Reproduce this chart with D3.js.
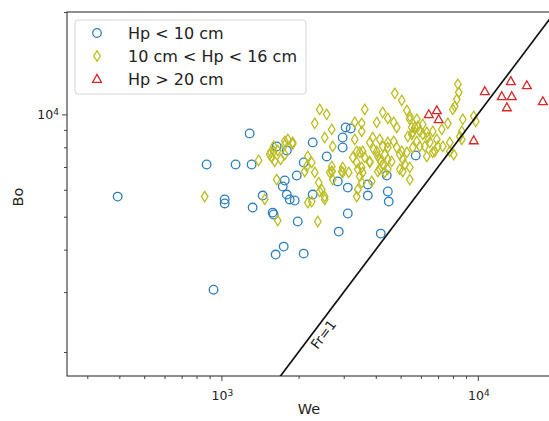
<!DOCTYPE html>
<html>
<head>
<meta charset="utf-8">
<script src="https://cdn.jsdelivr.net/npm/d3@7"></script>
<style>
  body { margin: 0; background: #fff; }
  svg { display: block; font-family: "DejaVu Sans", sans-serif; }
</style>
</head>
<body>
<div id="vis"></div>
<script>
// [We, Bo] pairs
const smallHp = [
  [394,5730],[932,3050],[876,7120],[1136,7120],[1312,7120],[1289,8790],[1643,8050],[1800,7830],
  [2094,7220],[1967,6610],[1767,6390],[1735,6135],[1799,5810],[1847,5620],[1932,5580],[1030,5620],
  [1030,5470],[1449,5770],[1324,5320],[1585,5140],[1599,5075],[1985,4840],[1750,4084],[1628,3870],
  [2094,3895],[2271,8270],[2575,7520],[3053,9150],[3194,9090],[2972,8550],[2972,7990],[4415,6610],
  [5728,7570],[2271,5810],[2844,6350],[3111,6090],[3724,6220],[3724,5770],[4457,5930],[4494,5540],
  [3111,5110],[2868,4520],[4183,4460]
];

const midHp = [
  [861,5730],[1397,7320],[1557,7730],[1571,7470],[1599,7780],[1614,7270],[1704,7370],[1816,8440],
  [1897,8270],[1643,6430],[2114,6790],[2152,7030],[1476,5620],[1659,4870],[2173,5500],[1767,8330],
  [1599,8050],[1659,7830],[1543,7620],[1767,7620],[2173,7520],[2251,7220],[2418,10340],[2575,10000],
  [2313,9410],[2694,9030],[2529,8550],[2718,8050],[3623,10340],[3312,9470],[3526,9410],[3526,8910],
  [4258,10140],[4457,9730],[4699,9470],[4831,9150],[4745,11530],[5052,10990],[5286,10270],[5429,9670],
  [5679,9150],[5527,8730],[3892,8550],[3312,8440],[4036,9470],[3252,7470],[3464,7730],[3623,7470],
  [3790,7270],[4146,8440],[4258,8050],[4457,8270],[4036,7780],[4146,7370],[4337,7620],[4699,8330],
  [4831,7990],[4963,7620],[5097,7370],[4618,7270],[4457,6890],[4963,6890],[5286,7730],[5575,7990],
  [5782,8330],[5429,6980],[3403,6890],[3557,6750],[2972,6980],[2694,7030],[2694,6790],[2313,6750],
  [3372,7780],[3557,7780],[3790,8270],[3926,7890],[4457,7990],[5052,7780],[6212,8050],[6325,7520],
  [6674,7730],[4074,7520],[4183,7270],[4258,7120],[4457,7370],[5191,7120],[3372,7220],[3526,6980],
  [3790,7220],[4146,6890],[4337,6750],[3137,6750],[2646,6750],[2718,6430],[2946,6790],[2397,6300],
  [2462,6010],[2529,5730],[2251,5540],[3403,6010],[2418,5930],[2529,5620],[2972,6750],[3464,6570],
  [3526,6300],[3858,6350],[3372,5730],[2377,4840],[4074,6790],[5097,6790],[5429,6430],[5939,8050],
  [6797,7780],[8360,12260],[8430,11610],[8283,11070],[8135,10560],[7641,9410],[8738,9670],[9642,9865],
  [9819,9535],[7987,10340],[8661,8910],[8508,8610],[7777,8270],[8057,7620],[6920,8440],[6985,8050],
  [6325,8850],[6674,8910],[5335,8610],[5575,8850],[5836,9220],[6099,8730],[5782,9670],[6099,9340],
  [5527,9150],[5939,8910],[7236,9030],[8661,8440],[7300,8050],[6384,8550],[6498,8270],[7777,7780],
  [5429,9865],[1767,8130],[1897,8180],[2700,6800]
];

const largeHp = [
  [10650,11690],[13450,12510],[15530,12170],[12400,11300],[13570,11300],[12980,10480],
  [17930,10920],[9640,8380],[6440,10000],[6920,10270],[7040,9670]
];

const frLine = [1000, 40000];  // Fr = 1 -> Bo = We
const frLabelAt = 2340;

const xMajor = [1000, 10000];
const xMinor = [300, 400, 500, 600, 700, 800, 900, 2000, 3000, 4000, 5000, 6000, 7000, 8000, 9000, 20000];
const yMajor = [10000];
const yMinor = [2000, 3000, 4000, 5000, 6000, 7000, 8000, 9000, 20000];

const legendLabels = ["Hp < 10 cm", "10 cm < Hp < 16 cm", "Hp > 20 cm"];
const colors = ["#2e7ebc", "#bcbd22", "#d62728"];

const W = 549, H = 421;
const plot = {left: 67, top: 12, right: 555, bottom: 376};

const svg = d3.select("#vis").append("svg")
    .attr("width", W)
    .attr("height", H);

const x = d3.scaleLog().domain([250, 20000]).range([plot.left, plot.right]);
const y = d3.scaleLog().domain([1700, 20000]).range([plot.bottom, plot.top]);

svg.append("clipPath").attr("id", "clip")
  .append("rect")
    .attr("x", plot.left).attr("y", plot.top)
    .attr("width", plot.right - plot.left).attr("height", plot.bottom - plot.top);

// ticks
const axisColor = "#333";
const tickFmt = function(d){ return ""; };

const xAxisG = svg.append("g").attr("transform", `translate(0,${plot.bottom})`);
xAxisG.call(d3.axisBottom(x).tickValues(xMajor).tickSize(5).tickFormat(tickFmt));
xAxisG.append("g").call(d3.axisBottom(x).tickValues(xMinor).tickSize(3).tickFormat(tickFmt));
xAxisG.selectAll(".domain").remove();
xAxisG.selectAll("line").attr("stroke", axisColor).attr("stroke-width", 0.9);

const yAxisG = svg.append("g").attr("transform", `translate(${plot.left},0)`);
yAxisG.call(d3.axisLeft(y).tickValues(yMajor).tickSize(5).tickFormat(tickFmt));
yAxisG.append("g").call(d3.axisLeft(y).tickValues(yMinor).tickSize(3).tickFormat(tickFmt));
yAxisG.selectAll(".domain").remove();
yAxisG.selectAll("line").attr("stroke", axisColor).attr("stroke-width", 0.9);

// tick labels as 10^n
function powLabel(g, tx, ty, anchor, d){
  const t = g.append("text")
      .attr("x", tx).attr("y", ty)
      .attr("text-anchor", anchor)
      .attr("fill", "#222")
      .style("font-size", "12.5px");
  t.append("tspan").text("10");
  t.append("tspan").attr("dy", "-0.45em").style("font-size", "9px").text(Math.round(Math.log10(d)));
}
xMajor.forEach(function(d){ powLabel(svg, x(d) + 1, plot.bottom + 24, "middle", d); });
yMajor.forEach(function(d){ powLabel(svg, plot.left - 8, y(d) + 5, "end", d); });

// frame
svg.append("rect")
    .attr("x", plot.left).attr("y", plot.top)
    .attr("width", plot.right - plot.left).attr("height", plot.bottom - plot.top)
    .attr("fill", "none").attr("stroke", axisColor).attr("stroke-width", 1.1);

// axis labels
svg.append("text").attr("x", 309).attr("y", 414)
    .attr("text-anchor", "middle").attr("fill", "#222")
    .style("font-size", "14.5px").text("We");
svg.append("text")
    .attr("transform", `translate(23,${(plot.top + plot.bottom) / 2 + 3}) rotate(-90)`)
    .attr("text-anchor", "middle").attr("fill", "#222")
    .style("font-size", "14.5px").text("Bo");

const area = svg.append("g").attr("clip-path", "url(#clip)");

// markers
const diamondPath = "M0,-5.2L3.3,0L0,5.2L-3.3,0Z";
const trianglePath = "M0,-4.6L4.4,3.3L-4.4,3.3Z";

area.selectAll(".small").data(smallHp).enter().append("circle")
    .attr("class", "small")
    .attr("cx", function(d){ return x(d[0]); })
    .attr("cy", function(d){ return y(d[1]); })
    .attr("r", 4.3)
    .attr("fill", "none").attr("stroke", colors[0]).attr("stroke-width", 1.3);

area.selectAll(".mid").data(midHp).enter().append("path")
    .attr("class", "mid")
    .attr("d", diamondPath)
    .attr("transform", function(d){ return `translate(${x(d[0])},${y(d[1])})`; })
    .attr("fill", "none").attr("stroke", colors[1]).attr("stroke-width", 1.3);

area.selectAll(".large").data(largeHp).enter().append("path")
    .attr("class", "large")
    .attr("d", trianglePath)
    .attr("transform", function(d){ return `translate(${x(d[0])},${y(d[1])})`; })
    .attr("fill", "none").attr("stroke", colors[2]).attr("stroke-width", 1.3);

// Fr = 1 line
area.append("line")
    .attr("x1", x(frLine[0])).attr("y1", y(frLine[0]))
    .attr("x2", x(frLine[1])).attr("y2", y(frLine[1]))
    .attr("stroke", "#111").attr("stroke-width", 1.7);

const ang = Math.atan2(y(frLine[1]) - y(frLine[0]), x(frLine[1]) - x(frLine[0])) * 180 / Math.PI;
svg.append("text")
    .attr("transform", `translate(${x(frLabelAt)},${y(frLabelAt)}) rotate(${ang})`)
    .attr("x", 0).attr("y", 14)
    .attr("text-anchor", "middle").attr("fill", "#222")
    .style("font-size", "13.5px").text("Fr=1");

// legend
const leg = svg.append("g").attr("transform", "translate(75,20)");
leg.append("rect")
    .attr("width", 231).attr("height", 74).attr("rx", 3)
    .attr("fill", "#fff").attr("fill-opacity", 0.85)
    .attr("stroke", "#d5d5d5").attr("stroke-width", 1);

legendLabels.forEach(function(label, i){
  const row = leg.append("g").attr("transform", `translate(22,${13 + i * 23})`);
  if(i === 0){
    row.append("circle").attr("r", 4.3)
        .attr("fill", "none").attr("stroke", colors[0]).attr("stroke-width", 1.3);
  } else {
    row.append("path").attr("d", i === 1 ? diamondPath : trianglePath)
        .attr("fill", "none").attr("stroke", colors[i]).attr("stroke-width", 1.3);
  }
  row.append("text").attr("x", 31).attr("y", 5.5)
      .attr("fill", "#222")
      .style("font-size", "16px").text(label);
});
</script>
</body>
</html>
